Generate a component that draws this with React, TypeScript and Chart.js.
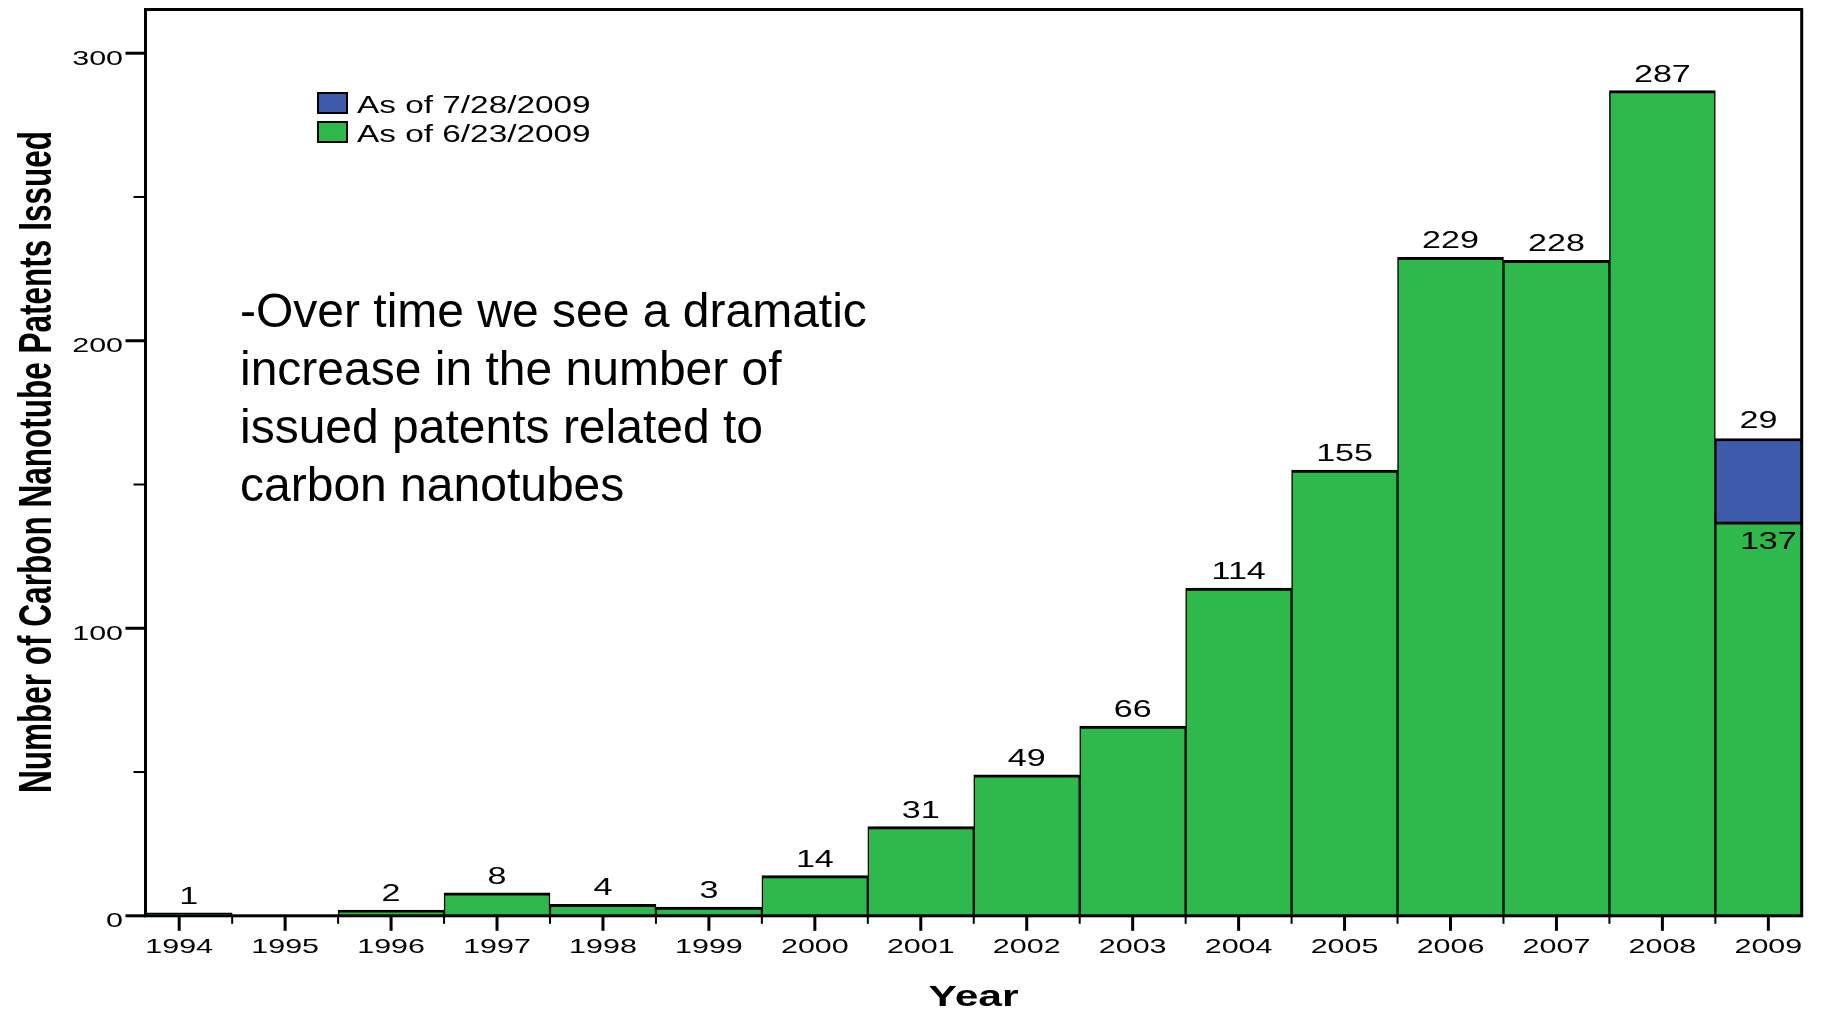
import React, { useEffect, useRef } from "react";
import { Chart, registerables } from "chart.js";

Chart.register(...registerables);

// Patents issued per year
const years = [1994, 1995, 1996, 1997, 1998, 1999, 2000, 2001, 2002, 2003, 2004, 2005, 2006, 2007, 2008, 2009];
const issuedAsOfJune = [1, 0, 2, 8, 4, 3, 14, 31, 49, 66, 114, 155, 229, 228, 287, 137];
const addedByJuly = [0, 0, 0, 0, 0, 0, 0, 0, 0, 0, 0, 0, 0, 0, 0, 29];
const seriesJune = "As of 6/23/2009";
const seriesJuly = "As of 7/28/2009";

const yMajorTicks = [0, 100, 200, 300];
const yMinorTicks = [50, 150, 250];
const yTitle = "Number of Carbon Nanotube Patents Issued";
const xTitle = "Year";
const noteLines = [
  "-Over time we see a dramatic",
  "increase in the number of",
  "issued patents related to",
  "carbon nanotubes",
];

const FONT = '"Liberation Sans", Arial, Helvetica, sans-serif';
const GREEN = "#2fb84b";
const BLUE = "#3e5aaa";
const WIDE = 1.45; // chart lettering is set wide

function wideText(
  ctx: CanvasRenderingContext2D,
  text: string,
  x: number,
  y: number,
  size: number,
  weight: string,
  sx: number,
  align: CanvasTextAlign
) {
  ctx.save();
  ctx.translate(x, y);
  ctx.scale(sx, 1);
  ctx.font = `${weight} ${size}px ${FONT}`;
  ctx.textAlign = align;
  ctx.textBaseline = "alphabetic";
  ctx.fillStyle = "#000";
  ctx.fillText(text, 0, 0);
  ctx.restore();
}

const decorations = {
  id: "decorations",
  afterDatasetsDraw(chart: any) {
    const ctx: CanvasRenderingContext2D = chart.ctx;
    const area = chart.chartArea;
    const june = chart.getDatasetMeta(0);
    const july = chart.getDatasetMeta(1);

    // value labels
    const julyByYear: Record<number, any> = {};
    july.data.forEach((bar: any, i: number) => {
      julyByYear[chart.data.datasets[1].data[i].x] = { bar, v: chart.data.datasets[1].data[i].y };
    });
    const visibleCenter = (bar: any) => {
      const l = Math.max(bar.x - bar.width / 2, area.left);
      const r = Math.min(bar.x + bar.width / 2, area.right);
      return (l + r) / 2;
    };
    june.data.forEach((bar: any, i: number) => {
      const pt = chart.data.datasets[0].data[i];
      if (!pt.y) return;
      const above = julyByYear[pt.x];
      if (above && above.v > 0) {
        wideText(ctx, String(pt.y), bar.x, bar.y + 27, 23.5, "normal", WIDE, "center");
        wideText(ctx, String(above.v), visibleCenter(above.bar), above.bar.y - 10, 23.5, "normal", WIDE, "center");
      } else {
        wideText(ctx, String(pt.y), visibleCenter(bar), bar.y - 9, 23.5, "normal", WIDE, "center");
      }
    });
  },
  afterDraw(chart: any) {
    const ctx: CanvasRenderingContext2D = chart.ctx;
    const area = chart.chartArea;
    const x = chart.scales.x;
    const y = chart.scales.y;
    ctx.save();
    ctx.strokeStyle = "#000";
    ctx.lineCap = "butt";

    // frame
    ctx.lineWidth = 3;
    ctx.strokeRect(area.left, area.top, area.right - area.left, area.bottom - area.top);

    // y ticks
    yMajorTicks.forEach((v) => {
      const py = y.getPixelForValue(v);
      ctx.lineWidth = 3;
      ctx.beginPath();
      ctx.moveTo(area.left - 20, py);
      ctx.lineTo(area.left, py);
      ctx.stroke();
      wideText(ctx, String(v), area.left - 22.5, py + 11.5, 21, "normal", WIDE, "right");
    });
    yMinorTicks.forEach((v) => {
      const py = y.getPixelForValue(v);
      ctx.lineWidth = 2;
      ctx.beginPath();
      ctx.moveTo(area.left - 12, py);
      ctx.lineTo(area.left, py);
      ctx.stroke();
    });

    // x ticks: long at category centres, short at boundaries
    years.forEach((yr, i) => {
      const px = x.getPixelForValue(yr);
      ctx.lineWidth = 3;
      ctx.beginPath();
      ctx.moveTo(px, area.bottom);
      ctx.lineTo(px, area.bottom + 15);
      ctx.stroke();
      wideText(ctx, String(yr), px, area.bottom + 37, 21, "normal", WIDE, "center");
      if (i < years.length - 1) {
        const bx = x.getPixelForValue(yr + 0.5);
        ctx.lineWidth = 2;
        ctx.beginPath();
        ctx.moveTo(bx, area.bottom);
        ctx.lineTo(bx, area.bottom + 8);
        ctx.stroke();
      }
    });

    // axis titles
    const cx = (area.left + area.right) / 2;
    wideText(ctx, xTitle, cx, 1006, 30, "bold", 1.42, "center");
    ctx.save();
    ctx.translate(51, 462);
    ctx.rotate(-Math.PI / 2);
    ctx.scale(0.985, 1.42);
    ctx.font = `bold 32px ${FONT}`;
    ctx.textAlign = "center";
    ctx.textBaseline = "alphabetic";
    ctx.fillStyle = "#000";
    ctx.fillText(yTitle, 0, 0);
    ctx.restore();

    // legend
    const items = [
      { label: chart.data.datasets[1].label, color: chart.data.datasets[1].backgroundColor, top: 93, base: 113 },
      { label: chart.data.datasets[0].label, color: chart.data.datasets[0].backgroundColor, top: 122, base: 142 },
    ];
    items.forEach((it) => {
      ctx.fillStyle = it.color;
      ctx.fillRect(318, it.top, 29, 20);
      ctx.lineWidth = 2;
      ctx.strokeStyle = "#000";
      ctx.strokeRect(318, it.top, 29, 20);
      wideText(ctx, it.label, 357, it.base, 23, "normal", WIDE, "left");
    });

    // note
    noteLines.forEach((line, i) => {
      wideText(ctx, line, 240, 327 + i * 58, 48, "normal", 1, "left");
    });
    ctx.restore();
  },
};

export default function App() {
  const canvasRef = useRef<HTMLCanvasElement | null>(null);

  useEffect(() => {
    document.body.style.margin = "0";
    const canvas = canvasRef.current;
    if (!canvas) return;
    const juneData = years.map((yr, i) => ({ x: yr, y: issuedAsOfJune[i] }));
    const julyData = years
      .map((yr, i) => ({ x: yr, y: addedByJuly[i] }))
      .filter((p) => p.y > 0);
    const barBorder = { top: 3, left: 1.5, right: 1.5, bottom: 0 };
    const chart = new Chart(canvas, {
      type: "bar",
      data: {
        datasets: [
          {
            label: seriesJune,
            data: juneData,
            backgroundColor: GREEN,
            borderColor: "#000",
            borderWidth: barBorder,
            stack: "patents",
            clip: 0,
          },
          {
            label: seriesJuly,
            data: julyData,
            backgroundColor: BLUE,
            borderColor: "#000",
            borderWidth: barBorder,
            stack: "patents",
            clip: 0,
          },
        ],
      } as any,
      options: {
        responsive: false,
        animation: false,
        devicePixelRatio: 1,
        barPercentage: 1,
        categoryPercentage: 1,
        layout: { padding: { left: 145.5, right: 19.3, top: 9.5, bottom: 94.2 } },
        plugins: { legend: { display: false }, tooltip: { enabled: false } },
        scales: {
          x: {
            type: "linear",
            display: false,
            offset: false,
            min: 1993.682,
            max: 2009.315,
            ticks: { stepSize: 1, includeBounds: false },
          },
          y: {
            type: "linear",
            display: false,
            stacked: true,
            min: 0,
            max: 315.2,
          },
        },
      } as any,
      plugins: [decorations],
    });
    return () => chart.destroy();
  }, []);

  return (
    <div style={{ position: "absolute", left: 0, top: 0, width: 1821, height: 1010, background: "#fff" }}>
      <canvas ref={canvasRef} width={1821} height={1010} style={{ display: "block" }} />
    </div>
  );
}
